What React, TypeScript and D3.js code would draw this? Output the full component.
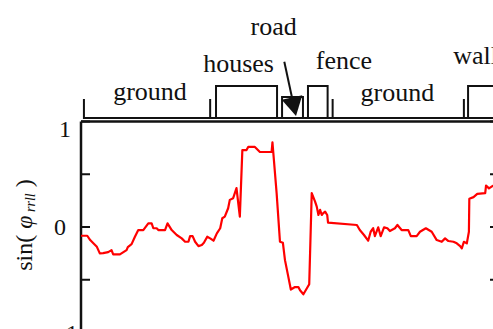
import React from "react";
import * as d3 from "d3";

// position along the scan (0-100) and sin(phi_roll)
const posX = [
  0, 1.5, 2.2, 2.9, 3.8, 4.5, 5.3, 6.5, 7.3, 7.7, 9.3, 10.9, 11.2, 12.1, 12.9, 13.7, 14.9, 16.1, 16.9, 17.3,
  18.1, 18.5, 20.1, 20.7, 21.7, 22.9, 24.1, 24.9, 25.7, 26.1, 26.7, 27.3, 28.1, 28.9, 29.4, 30.2, 30.9, 31.7,
  32.5, 33.3, 33.8, 34.4, 35.2, 35.6, 36.4, 37.2, 38.0, 38.6, 39.6, 40.0, 41.6, 42.8, 45.6, 45.8, 46.8, 47.6,
  48.3, 48.8, 49.6, 50.2, 51.2, 52.0, 52.4, 53.2, 54.6, 55.2, 56.0, 56.4, 56.8, 57.2, 57.6, 57.9, 58.4, 58.9,
  59.1, 66.0, 66.7, 67.7, 68.7, 69.3, 69.9, 70.3, 71.1, 71.7, 72.5, 73.3, 73.9, 75.1, 75.7, 76.7, 78.3, 78.9,
  80.3, 81.1, 82.5, 83.9, 85.1, 86.3, 87.1, 87.9, 89.1, 89.9, 90.7, 91.1, 91.6, 92.3, 92.8, 92.9, 93.9, 94.8,
  96.7, 96.9, 97.6, 98.5, 99.5,
];
const sinRoll = [
  -0.083, -0.083, -0.124, -0.152, -0.188, -0.25, -0.248, -0.238, -0.219, -0.26, -0.26, -0.219, -0.19, -0.162,
  -0.092, -0.029, -0.029, 0.035, 0.035, -0.012, -0.012, -0.029, -0.029, 0.035, -0.029, -0.076, -0.108, -0.14,
  -0.14, -0.086, -0.086, -0.14, -0.181, -0.171, -0.15, -0.092, -0.108, -0.13, -0.06, -0.012, 0.083, 0.098,
  0.178, 0.257, 0.273, 0.369, 0.098, 0.729, 0.729, 0.759, 0.759, 0.711, 0.711, 0.803, 0.321, -0.14, -0.15,
  -0.314, -0.473, -0.593, -0.569, -0.569, -0.6, -0.638, -0.543, 0.321, 0.241, 0.193, 0.114, 0.162, 0.114,
  0.13, 0.146, 0.114, 0.041, 0.019, -0.029, -0.076, -0.13, -0.045, -0.012, -0.086, -0.003, -0.086, -0.003,
  -0.012, -0.038, -0.012, 0.019, -0.029, -0.029, -0.086, -0.086, -0.045, -0.012, -0.045, -0.124, -0.14,
  -0.108, -0.133, -0.14, -0.155, -0.181, -0.203, -0.14, -0.155, -0.045, 0.267, 0.283, 0.314, 0.321, 0.393,
  0.366, 0.39, 0.38,
];

// scene segmentation along the scan
const segLabels = ["ground", "houses", "road", "fence", "ground", "wall"];
const segStart = [0.7, 32.3, 48.1, 54.3, 60.2, 92.6];
const segEnd = [30.9, 46.9, 53.1, 59.0, 91.6, 110];
const segKind = ["open", "box", "low", "box", "open", "box"];

const yTicks = [-1, -0.5, 0, 0.5, 1];
const yTickLabels = ["- 1", "0", "1"];
const yTickLabelVals = [-1, 0, 1];

const W = 493;
const H = 329;
const serif = "'Liberation Serif', 'Times New Roman', serif";

export default function App() {
  const x = d3.scaleLinear().domain([0, 100]).range([81, 499]);
  const y = d3.scaleLinear().domain([-1, 1]).range([332.5, 121.5]);

  const line = d3
    .line<number>()
    .x((_, i) => x(posX[i]))
    .y((d) => y(d));

  // segment bar layout (pixels)
  const segBase = 118;
  const topFor = { open: 99, box: 86, low: 97 } as Record<string, number>;
  const labelX = [16.5, 37.7, 46.1, 62.9, 75.7, 94.4];
  const labelY = [100, 72, 35, 69, 101, 64];

  // arrow from "road" label down into its box
  const a0 = [284.3, 61.7];
  const tip = [296, 116];
  const dx = tip[0] - a0[0];
  const dy = tip[1] - a0[1];
  const len = Math.hypot(dx, dy);
  const ux = dx / len;
  const uy = dy / len;
  const hl = 19;
  const hw = 10.5;
  const bx = tip[0] - ux * hl;
  const by = tip[1] - uy * hl;
  const head = `M${tip[0]},${tip[1]}L${bx + uy * hw},${by - ux * hw}L${bx - uy * hw},${by + ux * hw}Z`;

  const labelOffset: Record<string, number> = { "1": 15, "0": 8, "- 1": 8 };
  const labelEnd: Record<string, number> = { "1": 71, "0": 66, "- 1": 78 };

  return (
    <svg
      width={W}
      height={H}
      style={{ position: "absolute", left: 0, top: 0, background: "#fff", overflow: "hidden" }}
      fontFamily={serif}
    >
      {/* segmentation bar */}
      <line x1={x(segStart[0])} x2={W + 10} y1={segBase} y2={segBase} stroke="#111" strokeWidth={2} />
      {segLabels.map((s, i) => {
        const x0 = x(segStart[i]);
        const x1 = x(segEnd[i]);
        const top = topFor[segKind[i]];
        const d =
          segKind[i] === "open"
            ? `M${x0},${top}V${segBase}H${x1}V${top}`
            : `M${x0},${segBase}V${top}H${x1}V${segBase}`;
        return <path key={i} d={d} fill="none" stroke="#111" strokeWidth={2} />;
      })}
      {segLabels.map((s, i) => (
        <text key={"l" + i} x={x(labelX[i])} y={labelY[i]} fontSize={26} textAnchor="middle" fill="#111">
          {s}
        </text>
      ))}
      <line x1={a0[0]} y1={a0[1]} x2={bx} y2={by} stroke="#111" strokeWidth={2} />
      <path d={head} fill="#111" />

      {/* frame */}
      <line x1={x(0)} x2={W + 10} y1={y(1)} y2={y(1)} stroke="#111" strokeWidth={2.5} />
      <line x1={x(0)} x2={x(0)} y1={y(1)} y2={H + 10} stroke="#111" strokeWidth={2.5} />
      <line x1={x(100)} x2={x(100)} y1={y(1)} y2={H + 10} stroke="#111" strokeWidth={2.5} />
      {yTicks.map((t) => (
        <g key={t}>
          <line x1={x(0)} x2={x(0) + 9} y1={y(t)} y2={y(t)} stroke="#111" strokeWidth={2} />
          <line x1={x(100) - 9} x2={x(100)} y1={y(t)} y2={y(t)} stroke="#111" strokeWidth={2} />
        </g>
      ))}
      {yTickLabels.map((l, i) => (
        <text
          key={l}
          x={labelEnd[l]}
          y={y(yTickLabelVals[i]) + labelOffset[l]}
          fontSize={24}
          textAnchor="end"
          fill="#111"
        >
          {l}
        </text>
      ))}

      {/* y axis title */}
      <text transform="translate(32,225) rotate(-90)" fontSize={24} textAnchor="middle" fill="#111">
        <tspan>sin( </tspan>
        <tspan fontStyle="italic">φ</tspan>
        <tspan fontStyle="italic" fontSize={14} dy={3}>
          {" "}
          rrll
        </tspan>
        <tspan dy={-3}> )</tspan>
      </text>

      {/* data */}
      <path d={line(sinRoll) ?? ""} fill="none" stroke="#ff0000" strokeWidth={2.2} strokeLinejoin="round" />
    </svg>
  );
}
